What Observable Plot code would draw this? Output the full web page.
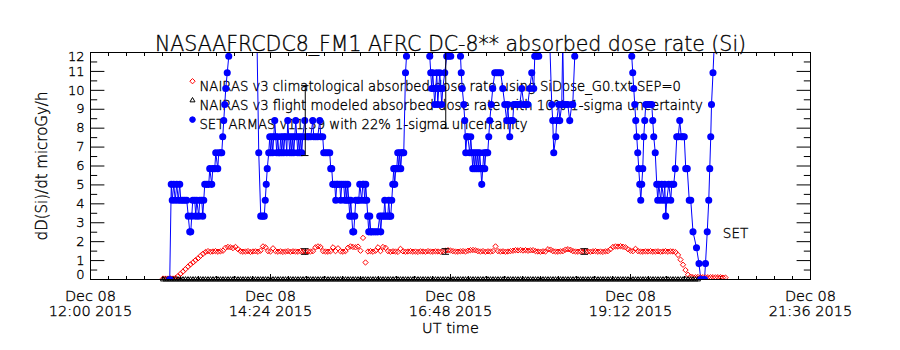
<!DOCTYPE html>
<html><head><meta charset="utf-8">
<script src="https://cdn.jsdelivr.net/npm/d3@7"></script>
<script src="https://cdn.jsdelivr.net/npm/@observablehq/plot@0.6"></script>
<style>body{margin:0;background:#fff}</style>
</head><body><div id="chart"></div>
<script>
// ---------------- data ----------------
const titleText = "NASAAFRCDC8_FM1 AFRC DC-8** absorbed dose rate (Si)";
const yTitle = "dD(Si)/dt microGy/h";
const xTitle = "UT time";
const legendLabels = [
  "NAIRAS v3 climatological absorbed dose rate using SiDose_G0.txt SEP=0",
  "NAIRAS v3 flight modeled absorbed dose rate with 10% 1-sigma uncertainty",
  "SET ARMAS v11.39 with 22% 1-sigma uncertainty"
];
const seriesTag = "SET";
// x axis: minutes after 2015-12-08 12:00 UT
const xMajorMin = [0, 144, 288, 432, 576];
const xTickLabels = ["Dec 08\n12:00 2015", "Dec 08\n14:24 2015", "Dec 08\n16:48 2015", "Dec 08\n19:12 2015", "Dec 08\n21:36 2015"];
const yMajor = [0,1,2,3,4,5,6,7,8,9,10,11,12];
const yTickLabels = ["0","1","2","3","4","5","6","7","8","9","10","11","12"];

// SET ARMAS measurements (minutes after 12:00 UT, microGy/h)
const setTime = [
 63.4,64.6,65.4,66.6,67.8,69.0,70.2,71.4,72.2,73.8,
 75.4,77.0,78.2,79.4,80.2,81.0,81.8,83.4,84.2,85.0,
 86.6,87.4,89.0,89.8,90.6,91.4,93.0,94.6,95.4,97.0,
 97.8,99.4,100.2,101.8,102.6,104.2,105.0,105.8,106.6,107.4,
 108.2,109.4,110.6,112.2,123.4,133.0,134.6,136.2,137.8,139.0,
 139.8,140.6,141.4,142.6,143.4,144.2,145.0,145.8,146.6,147.4,
 148.2,149.0,149.8,150.6,151.4,152.2,153.0,153.8,154.6,155.4,
 156.2,157.0,157.8,158.6,159.4,160.2,161.0,161.8,162.6,163.4,
 164.2,165.0,165.8,166.6,167.4,168.2,169.0,169.8,171.4,172.2,
 173.8,174.6,176.2,177.8,178.6,180.2,181.8,183.4,184.2,185.8,
 186.6,188.2,189.8,191.4,192.2,193.0,193.8,195.4,196.2,197.0,
 197.8,199.4,200.2,201.0,202.6,203.4,204.2,205.0,205.8,206.6,
 207.4,208.2,209.0,209.8,210.6,211.4,212.2,213.8,214.6,215.4,
 217.0,217.8,218.6,219.4,220.2,221.0,221.8,222.6,223.4,224.2,
 225.0,226.6,228.2,229.8,231.4,232.2,233.0,234.6,235.4,236.2,
 237.8,238.6,239.4,240.2,241.0,241.8,242.6,243.4,244.2,245.0,
 245.8,246.6,247.4,248.2,249.0,249.8,250.6,252.0,252.8,253.8,
 269.8,271.4,272.2,273.0,273.8,274.6,275.4,276.2,277.0,277.8,
 278.6,279.4,280.2,281.0,281.8,283.4,285.0,286.6,288.2,289.8,
 294.6,296.0,296.6,297.4,298.6,299.4,300.2,301.0,301.8,303.4,
 304.2,305.0,305.8,306.6,307.4,308.2,309.0,309.8,310.6,311.4,
 312.2,313.0,313.8,314.6,315.4,316.2,317.0,317.8,318.6,319.4,
 320.6,321.8,323.4,325.0,326.6,328.2,329.8,331.4,333.0,333.8,
 335.4,336.2,337.8,338.6,340.2,341.8,343.4,345.0,346.6,348.2,
 349.8,351.4,353.0,354.6,355.4,357.0,358.6,360.2,367.4,369.0,
 369.8,370.6,372.2,373.0,374.6,375.4,377.0,377.8,378.6,380.2,
 381.8,383.4,385.0,385.8,387.4,389.0,431.4,433.0,433.8,434.6,
 435.4,436.2,437.0,437.8,438.6,439.4,440.2,441.0,441.8,442.6,
 443.4,444.2,445.8,447.4,449.0,449.8,450.6,451.8,453.0,453.8,
 454.6,456.2,457.0,458.6,459.4,460.2,461.0,462.6,464.2,465.0,
 466.6,467.8,469.0,470.2,471.4,472.6,473.8,475.0,476.2,477.4,
 479.0,480.2,482.0,484.8,486.8,488.2,491.2,492.0,493.4,494.6,
 495.4,496.2,496.8,498.0,499.4
];
const setRate = [
 0,5.03,4.19,5.03,4.19,5.03,4.19,5.03,4.19,4.19,
 4.19,4.19,3.35,2.52,2.52,3.35,4.19,4.19,3.35,4.19,
 3.35,4.19,4.19,3.35,4.19,5.03,5.03,5.03,5.86,5.03,
 5.86,5.86,6.7,5.86,6.7,6.7,6.7,7.55,8.4,9.25,
 10.1,10.93,11.8,12.6,13.4,13.4,6.7,3.35,3.35,3.35,
 4.19,5.03,5.86,6.7,7.55,6.7,7.55,6.7,7.55,8.4,
 7.55,6.7,7.55,6.7,6.7,7.55,6.7,7.55,6.7,7.55,
 7.55,6.7,8.4,7.55,6.7,7.55,6.7,7.55,6.7,7.55,
 8.4,7.55,6.7,7.55,6.7,7.55,6.7,7.55,8.4,7.55,
 7.55,7.55,7.55,8.4,7.55,7.55,7.55,8.4,7.55,7.55,
 6.7,6.7,6.7,6.7,5.86,5.86,5.03,5.03,4.19,5.03,
 5.03,5.03,4.19,5.03,5.03,4.19,5.03,4.19,5.03,4.19,
 3.35,4.19,3.35,2.52,2.52,3.35,4.19,4.19,4.19,5.03,
 4.19,5.03,5.03,4.19,5.03,4.19,3.35,2.52,3.35,2.52,
 2.52,2.52,2.52,2.52,3.35,2.52,3.35,3.35,4.19,3.35,
 3.35,4.19,3.35,3.35,4.19,5.03,5.86,5.03,5.86,5.86,
 6.7,5.86,6.7,5.86,6.7,6.7,6.7,10.93,11.8,13.0,
 13.0,11.8,10.93,10.1,10.93,10.1,9.25,10.1,10.93,9.25,
 10.1,10.93,10.1,9.25,10.1,10.93,11.8,11.8,11.8,12.6,
 12.6,11.8,10.93,10.1,9.25,8.4,6.7,7.55,7.55,6.7,
 7.55,6.7,5.86,6.7,5.86,6.7,5.86,6.7,5.86,6.7,
 5.86,5.03,5.86,6.7,5.86,6.7,6.7,6.7,7.55,8.4,
 9.25,10.1,10.93,10.93,10.93,10.93,10.1,9.25,8.4,9.25,
 7.55,8.4,8.4,9.25,9.25,9.25,9.25,10.1,9.25,9.25,
 9.25,10.1,10.93,10.1,11.8,11.8,11.8,12.6,12.6,9.25,
 8.4,6.7,7.55,8.4,9.25,8.4,9.25,12.6,9.25,9.25,
 9.25,8.4,9.25,9.25,11.8,13.0,13.0,11.8,10.93,10.1,
 9.25,8.4,7.55,6.7,5.86,5.03,4.19,5.03,5.86,7.55,
 8.4,9.25,9.25,9.25,9.25,8.4,7.55,6.7,5.03,4.19,
 5.03,4.19,5.03,4.19,5.03,3.35,4.19,5.03,4.19,5.03,
 5.03,5.86,7.55,7.55,8.4,7.55,7.55,7.55,5.86,5.86,
 4.19,4.19,2.52,1.68,0.84,0,0,0.84,2.52,4.19,
 5.86,7.55,9.25,10.93,13.0
];

// NAIRAS model output, sampled every 2 minutes from 12:58 UT
const nairasStart = 58, nairasEnd = 508, nairasStep = 2;
const nairasClim = [
 0.05,0.05,0.05,0.06,0.05,0.08,0.18,0.3,0.42,0.55,
 0.68,0.8,0.9,1.02,1.12,1.25,1.36,1.45,1.5,1.47,
 1.48,1.5,1.47,1.49,1.52,1.68,1.72,1.7,1.66,1.72,
 1.6,1.5,1.47,1.48,1.5,1.46,1.48,1.49,1.47,1.52,
 1.75,1.7,1.5,1.48,1.65,1.5,1.47,1.49,1.46,1.48,
 1.5,1.47,1.49,1.48,1.47,1.5,1.48,1.46,1.49,1.48,
 1.5,1.7,1.75,1.72,1.5,1.48,1.47,1.49,1.7,1.5,
 1.65,1.49,1.47,1.5,1.68,1.75,1.72,1.7,1.74,1.52,
 2.2,0.9,1.48,1.5,1.47,1.52,1.7,1.5,1.72,1.68,
 1.5,1.47,1.49,1.48,1.46,1.62,1.49,1.47,1.48,1.5,
 1.47,1.48,1.46,1.49,1.48,1.47,1.5,1.48,1.47,1.49,
 1.48,1.47,1.5,1.52,1.55,1.53,1.5,1.48,1.47,1.49,
 1.5,1.48,1.52,1.55,1.56,1.54,1.5,1.48,1.5,1.47,
 1.49,1.48,1.5,1.75,1.5,1.48,1.49,1.47,1.48,1.5,
 1.52,1.55,1.54,1.56,1.53,1.55,1.52,1.54,1.55,1.5,
 1.48,1.47,1.49,1.48,1.6,1.58,1.5,1.48,1.47,1.49,
 1.5,1.58,1.6,1.57,1.5,1.48,1.47,1.49,1.48,1.5,
 1.48,1.47,1.49,1.5,1.47,1.48,1.46,1.49,1.5,1.6,
 1.72,1.75,1.74,1.76,1.73,1.7,1.6,1.52,1.5,1.62,
 1.5,1.48,1.47,1.49,1.48,1.5,1.47,1.48,1.49,1.47,
 1.48,1.5,1.47,1.49,1.48,1.45,1.3,1.05,0.78,0.5,
 0.25,0.15,0.12,0.12,0.13,0.12,0.12,0.11,0.12,0.12,
 0.12,0.11,0.12,0.12,0.1,0.1
];
const nairasFlight = [
 0,0,0,0,0,0,0,0,0,0, 0,0,0,0,0,0,0,0,0,0, 0,0,0,0,0,0,0,0,0,0,
 0,0,0,0,0,0,0,0,0,0, 0,0,0,0,0,0,0,0,0,0, 0,0,0,0,0,0,0,0,0,0,
 0,0,0,0,0,0,0,0,0,0, 0,0,0,0,0,0,0,0,0,0, 0,0,0,0,0,0,0,0,0,0,
 0,0,0,0,0,0,0,0,0,0, 0,0,0,0,0,0,0,0,0,0, 0,0,0,0,0,0,0,0,0,0,
 0,0,0,0,0,0,0,0,0,0, 0,0,0,0,0,0,0,0,0,0, 0,0,0,0,0,0,0,0,0,0,
 0,0,0,0,0,0,0,0,0,0, 0,0,0,0,0,0,0,0,0,0, 0,0,0,0,0,0,0,0,0,0,
 0,0,0,0,0,0,0,0,0,0, 0,0,0,0,0,0,0,0,0,0, 0,0,0,0,0,0,0,0,0,0,
 0,0,0,0,0
];
// error bar samples
const errTime = [171.8, 284.2, 395.4];
const errSet = [8.4, 10.25, 16.0];
const errNairas = [1.48, 1.48, 1.48];
const setUnc = 0.22, nairasUnc = 0.10;

// ---------------- build ----------------
const base = Date.UTC(2015, 11, 8, 12, 0, 0);
const T = m => new Date(base + m * 60000);
const setData = setTime.map((m, i) => ({t: T(m), v: setRate[i]}));
const nGrid = d3.range(nairasStart, nairasEnd + 1, nairasStep);
const climData = nGrid.map((m, i) => ({t: T(m), v: nairasClim[i]}));
const flightData = nGrid.map((m, i) => ({t: T(m), v: nairasFlight[i]}));
const errData = errTime.map((m, i) => ({m, t: T(m), s: errSet[i], n: errNairas[i]}));
const xMinor = d3.range(0, 576.01, 14.4).map(T);
const yMinor = d3.range(0.5, 12, 1);
const yLab = yMajor.map((v, i) => ({v, s: yTickLabels[i]}));

const FONT = "DejaVu Sans";
const FW = 200;
const RED = "#ff0000", BLUE = "#0000ff";
const capHalf = 3; // minutes
const ink = {fill: "black", stroke: "black", strokeWidth: 0.35};

const legendMarks = [];
const legendSym = [
  {symbol: "diamond2", stroke: RED, fill: "none", r: 2.4},
  {symbol: "triangle2", stroke: "black", fill: "none", r: 2.4},
  {symbol: "circle", stroke: BLUE, fill: BLUE, r: 2.8}
];
legendLabels.forEach((lab, i) => {
  const dy = 28.7 + 19.2 * i;
  legendMarks.push(Plot.dot([lab], {frameAnchor: "top-left", dx: 102, dy, ...legendSym[i], strokeWidth: 1}));
  legendMarks.push(Plot.text([lab], {frameAnchor: "top-left", dx: 109, dy, text: d => d, textAnchor: "start",
    fontFamily: FONT, fontWeight: FW, fontSize: 13.2, ...ink}));
});

const tickFont = {fontFamily: FONT, fontWeight: FW, fontSize: 13, ...ink};

const chart = Plot.plot({
  width: 900, height: 350,
  marginLeft: 90, marginRight: 90, marginTop: 52, marginBottom: 71,
  style: {background: "white", color: "black"},
  x: {type: "utc", domain: [T(0), T(576)]},
  y: {domain: [0, 12]},
  marks: [
    // axes ticks (inward)
    Plot.axisY(yMajor, {anchor: "left", tickSize: -14.4, fill: "none", label: null}),
    Plot.axisY(yMinor, {anchor: "left", tickSize: -7.2, fill: "none", label: null}),
    Plot.axisY(yMajor, {anchor: "right", tickSize: -14.4, fill: "none", label: null}),
    Plot.axisY(yMinor, {anchor: "right", tickSize: -7.2, fill: "none", label: null}),
    Plot.axisX(xMajorMin.map(T), {anchor: "bottom", tickSize: -5, fill: "none", label: null}),
    Plot.axisX(xMinor, {anchor: "bottom", tickSize: -3, fill: "none", label: null}),
    Plot.axisX(xMajorMin.map(T), {anchor: "top", tickSize: -5, fill: "none", label: null}),
    Plot.axisX(xMinor, {anchor: "top", tickSize: -3, fill: "none", label: null}),
    // tick labels
    Plot.text(yLab.filter(d => d.v > 0 && d.v < 12), {y: "v", text: "s", frameAnchor: "left", textAnchor: "end", dx: -6, ...tickFont}),
    Plot.text(yLab.filter(d => d.v === 0), {y: "v", text: "s", frameAnchor: "left", textAnchor: "end", dx: -6, dy: -5, ...tickFont}),
    Plot.text(yLab.filter(d => d.v === 12), {y: "v", text: "s", frameAnchor: "left", textAnchor: "end", dx: -6, dy: 4, ...tickFont}),
    Plot.text(xMajorMin, {x: d => T(d), text: (d, i) => xTickLabels[i], frameAnchor: "bottom", textAnchor: "middle", lineAnchor: "top", dy: 11,
      lineHeight: 1.02, fontFamily: FONT, fontWeight: FW, fontSize: 14.5, ...ink}),
    // titles
    Plot.text([xTitle], {frameAnchor: "bottom", textAnchor: "middle", dy: 53, text: d => d, fontFamily: FONT, fontWeight: FW, fontSize: 14.5, ...ink}),
    Plot.text([yTitle], {frameAnchor: "left", textAnchor: "middle", dx: -48, rotate: -90, text: d => d, fontFamily: FONT, fontWeight: FW, fontSize: 15, ...ink}),
    Plot.text([titleText], {frameAnchor: "top", textAnchor: "middle", dy: -16, text: d => d, fontFamily: FONT, fontWeight: FW, fontSize: 20.5, ...ink}),
    // legend (drawn beneath the data, as in the reference)
    ...legendMarks,
    Plot.text([seriesTag], {frameAnchor: "bottom-right", textAnchor: "middle", dx: -75, dy: -42, text: d => d, fontFamily: FONT, fontWeight: FW, fontSize: 13.5, ...ink}),
    // data
    Plot.line(setData, {x: "t", y: "v", stroke: BLUE, strokeWidth: 1, clip: true}),
    Plot.dot(climData, {x: "t", y: "v", symbol: "diamond2", stroke: RED, r: 2.4, strokeWidth: 1, clip: true}),
    Plot.dot(flightData, {x: "t", y: "v", symbol: "triangle2", stroke: "black", r: 2.4, strokeWidth: 1}),
    Plot.dot(setData, {x: "t", y: "v", symbol: "circle", fill: BLUE, stroke: BLUE, r: 2.8, clip: true}),
    // error bars
    Plot.ruleX(errData, {x: "t", y1: d => d.s * (1 - setUnc), y2: d => d.s * (1 + setUnc), stroke: "black", clip: true}),
    Plot.ruleY(errData, {x1: d => T(d.m - capHalf), x2: d => T(d.m + capHalf), y: d => d.s * (1 - setUnc), stroke: "black", clip: true}),
    Plot.ruleY(errData, {x1: d => T(d.m - capHalf), x2: d => T(d.m + capHalf), y: d => d.s * (1 + setUnc), stroke: "black", clip: true}),
    Plot.ruleX(errData, {x: "t", y1: d => d.n * (1 - nairasUnc), y2: d => d.n * (1 + nairasUnc), stroke: "black"}),
    Plot.ruleY(errData, {x1: d => T(d.m - capHalf), x2: d => T(d.m + capHalf), y: d => d.n * (1 - nairasUnc), stroke: "black"}),
    Plot.ruleY(errData, {x1: d => T(d.m - capHalf), x2: d => T(d.m + capHalf), y: d => d.n * (1 + nairasUnc), stroke: "black"}),
    Plot.frame({stroke: "black"})
  ]
});
document.getElementById("chart").appendChild(chart);
</script>
</body></html>
